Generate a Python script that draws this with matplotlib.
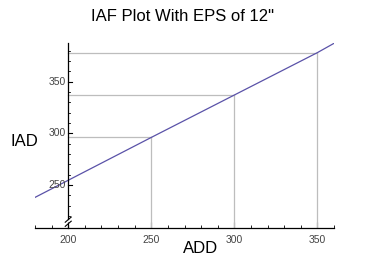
import matplotlib
matplotlib.use("Agg")
import matplotlib.pyplot as plt
from matplotlib.ticker import MultipleLocator

plt.rcParams['font.family'] = ['Liberation Sans', 'DejaVu Sans']

# line
add_vals = [180, 250, 300, 350, 360]
iad_vals = [238, 296, 337, 378, 387]

# reference points with drop lines
ref_add = [250, 300, 350]
ref_iad = [296, 337, 378]

xticks = [200, 250, 300, 350]
yticks = [250, 300, 350]

fig = plt.figure(figsize=(3.74, 2.69), dpi=100)
ax = fig.add_axes([0.0936, 0.1524, 0.7995, 0.6866])

ax.plot(add_vals, iad_vals, color='#5a52a8', lw=0.9, zorder=3)

x0, y0 = 200, 208.4
for xa, ya in zip(ref_add, ref_iad):
    ax.plot([xa, xa], [y0, ya], color='#bdbdbd', lw=0.9, zorder=2)
    ax.plot([x0, xa], [ya, ya], color='#bdbdbd', lw=0.9, zorder=2)

ax.set_xlim(180, 360)
ax.set_ylim(y0, 387)

for s in ['top', 'right', 'left']:
    ax.spines[s].set_visible(False)
ax.spines['bottom'].set_linewidth(0.9)

# y axis drawn by hand so it can have a break near the bottom
ax.plot([200, 200], [y0, 211.5], color='black', lw=0.9, clip_on=False, zorder=4)
ax.plot([200, 200], [217.5, 387], color='black', lw=0.9, clip_on=False, zorder=4)
ax.plot([198.2, 201.8], [210, 215], color='black', lw=0.8, clip_on=False, zorder=4)
ax.plot([198.2, 201.8], [214, 219], color='black', lw=0.8, clip_on=False, zorder=4)

ax.set_xticks(xticks)
ax.xaxis.set_minor_locator(MultipleLocator(10))
ax.tick_params(axis='x', which='major', direction='in', length=4, width=0.8,
               labelsize=7.5, labelcolor='#444444', pad=5)
ax.tick_params(axis='x', which='minor', direction='in', length=2, width=0.6)
ax.set_yticks([])

# y ticks on the shifted axis
for yv in range(220, 387, 10):
    major = yv in yticks
    ax.plot([200, 200 + (2.4 if major else 1.3)], [yv, yv], color='black',
            lw=0.8 if major else 0.6, clip_on=False, zorder=4)
for yv in yticks:
    ax.text(198.5, yv, str(yv), ha='right', va='center', fontsize=7.5, color='#444444')

fig.text(0.488, 0.94, 'IAF Plot With EPS of 12"', ha='center', va='center', fontsize=12)
fig.text(0.027, 0.475, 'IAD', ha='left', va='center', fontsize=12)
fig.text(0.535, 0.075, 'ADD', ha='center', va='center', fontsize=12)

fig.savefig('out.png', dpi=100)
